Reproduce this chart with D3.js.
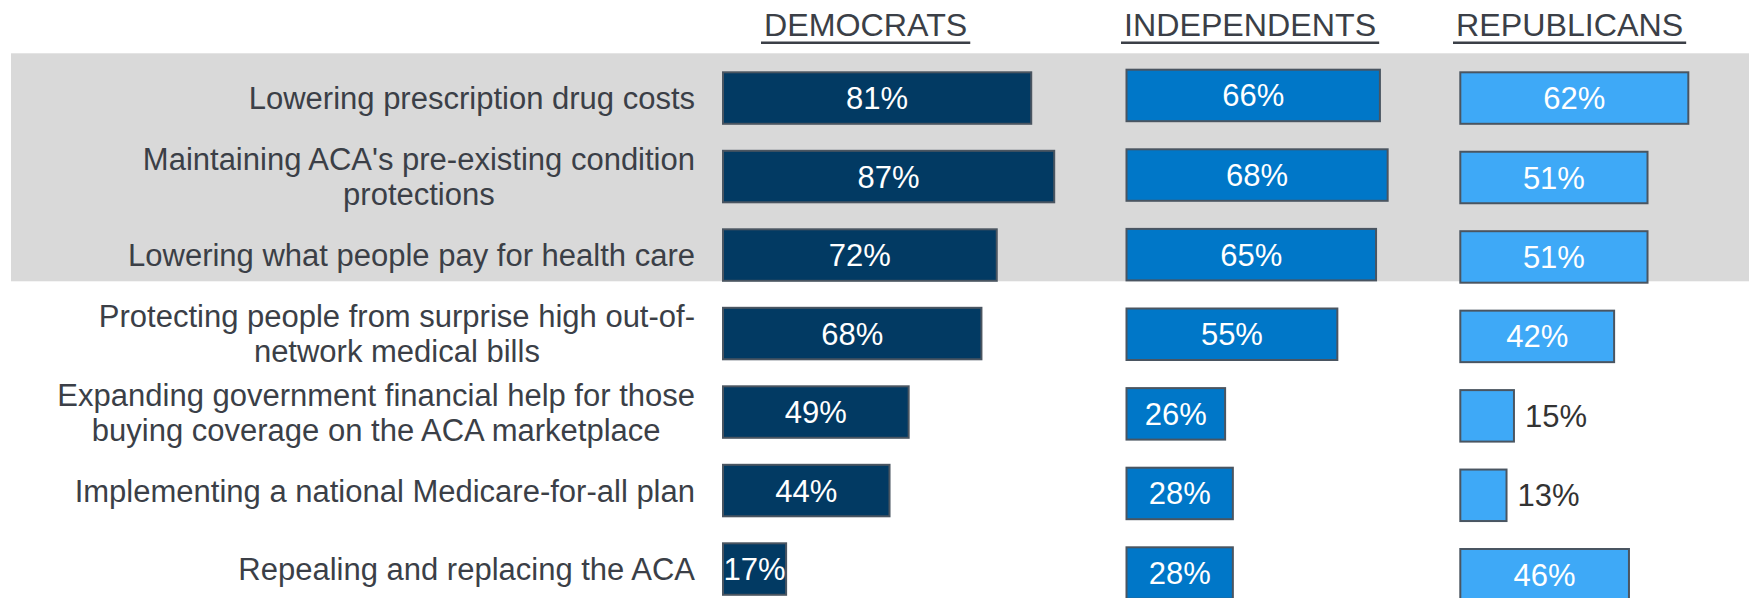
<!DOCTYPE html>
<html>
<head>
<meta charset="utf-8">
<script src="https://cdn.jsdelivr.net/npm/d3@7"></script>
<style>
  html, body { margin: 0; padding: 0; background: #ffffff; }
  svg { display: block; font-family: "Liberation Sans", Arial, sans-serif; }
</style>
</head>
<body>
<svg id="chart" width="1749" height="598"></svg>
<script>
// Share of each party calling an issue a top health care priority
const categories = [
  ["Lowering prescription drug costs"],
  ["Maintaining ACA's pre-existing condition", "protections"],
  ["Lowering what people pay for health care"],
  ["Protecting people from surprise high out-of-", "network medical bills"],
  ["Expanding government financial help for those", "buying coverage on the ACA marketplace"],
  ["Implementing a national Medicare-for-all plan"],
  ["Repealing and replacing the ACA"]
];
const groups = ["DEMOCRATS", "INDEPENDENTS", "REPUBLICANS"];
const democrats    = [81, 87, 72, 68, 49, 44, 17];
const independents = [66, 68, 65, 55, 26, 28, 28];
const republicans  = [62, 51, 51, 42, 15, 13, 46];

const seriesValues = [democrats, independents, republicans];

// Panel geometry: left edge of bars, pixels per percentage point, first/last bar top, header x
const panels = [
  { x0: 722,    k: 3.83, top0: 71.3, top6: 542.3, hx: 764,  fill: "#023a63" },
  { x0: 1125.5, k: 3.87, top0: 68.7, top6: 546.3, hx: 1124, fill: "#0077c8" },
  { x0: 1459.3, k: 3.71, top0: 71.3, top6: 548.0, hx: 1456, fill: "#3ea9f7" }
];
const barH = 53.5;
const textColor = "#3b3f47";
const fontSize = 31;
const headSize = 32.2;
const labelRight = 695;
const lineH = 35;

const svg = d3.select("#chart");

// Row positions shared by the labels and the grey band
const idx = d3.range(categories.length);
const refStep = (panels[0].top6 - panels[0].top0) / 6;
const refP = 1 - barH / refStep;
const yRef = d3.scaleBand().domain(idx)
  .range([panels[0].top0, panels[0].top0 + refStep * (idx.length - refP)])
  .paddingInner(refP).paddingOuter(0);

// Grey band behind the first three rows
svg.append("rect")
  .attr("x", 11).attr("y", 53)
  .attr("width", 1749 - 11).attr("height", 281.3 - 53)
  .attr("fill", "#d9d9d9");
svg.append("line")
  .attr("x1", 11).attr("x2", 1749).attr("y1", 53.5).attr("y2", 53.5)
  .attr("stroke", "#e4e4e4").attr("stroke-width", 1);

// Row labels, right-aligned block; wrapped lines centred on each other
categories.forEach((lines, i) => {
  const cy = yRef(i) + yRef.bandwidth() / 2;
  const g = svg.append("g");
  const texts = lines.map((ln, j) => g.append("text")
    .attr("font-size", fontSize)
    .attr("fill", textColor)
    .attr("y", cy + (j - (lines.length - 1) / 2) * lineH)
    .attr("dy", "0.355em")
    .text(ln));
  const maxW = d3.max(texts, t => t.node().getComputedTextLength());
  if (lines.length === 1) {
    texts[0].attr("x", labelRight).attr("text-anchor", "end");
  } else {
    texts.forEach(t => t.attr("x", labelRight - maxW / 2).attr("text-anchor", "middle"));
  }
});

// One bar panel per party
panels.forEach((p, gi) => {
  const values = seriesValues[gi];
  const x = d3.scaleLinear().domain([0, 100]).range([p.x0, p.x0 + 100 * p.k]);
  const step = (p.top6 - p.top0) / 6;
  const pad = 1 - barH / step;
  const y = d3.scaleBand().domain(idx)
    .range([p.top0, p.top0 + step * (idx.length - pad)])
    .paddingInner(pad).paddingOuter(0);

  const g = svg.append("g");

  // header with underline
  const head = g.append("text")
    .attr("x", p.hx).attr("y", 36)
    .attr("font-size", headSize)
    .attr("fill", textColor)
    .text(groups[gi]);
  const hw = head.node().getComputedTextLength();
  g.append("line")
    .attr("x1", p.hx - 3).attr("x2", p.hx + hw + 3)
    .attr("y1", 42.7).attr("y2", 42.7)
    .attr("stroke", textColor).attr("stroke-width", 2.6);

  values.forEach((v, i) => {
    const bw = x(v) - x(0);
    g.append("rect")
      .attr("x", x(0) + 1).attr("y", y(i) + 1)
      .attr("width", bw - 2).attr("height", y.bandwidth() - 2)
      .attr("fill", p.fill)
      .attr("stroke", "#4a5561").attr("stroke-width", 2);

    const t = g.append("text")
      .attr("font-size", fontSize)
      .attr("y", y(i) + y.bandwidth() / 2)
      .attr("dy", "0.355em")
      .text(v + "%");
    const tw = t.node().getComputedTextLength();
    if (bw >= tw) {
      t.attr("x", (x(0) + x(v)) / 2).attr("text-anchor", "middle").attr("fill", "#ffffff");
    } else {
      t.attr("x", x(v) + 10).attr("text-anchor", "start").attr("fill", "#333333");
    }
  });
});
</script>
</body>
</html>
